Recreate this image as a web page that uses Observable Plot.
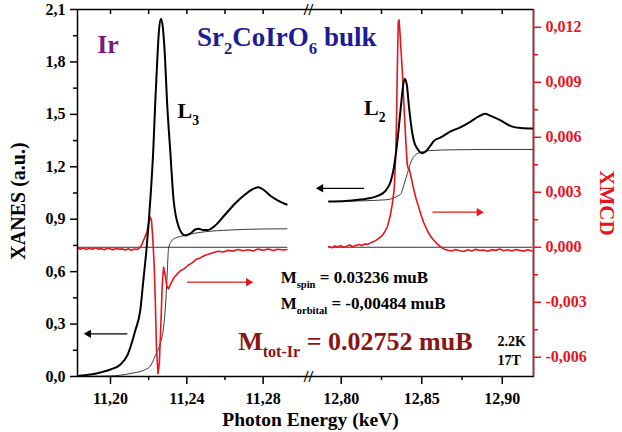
<!DOCTYPE html>
<html><head><meta charset="utf-8">
<script src="https://cdn.jsdelivr.net/npm/d3@7"></script>
<script src="https://cdn.jsdelivr.net/npm/@observablehq/plot@0.6"></script>
<style>body{margin:0;background:#fff}</style>
</head><body><div id="chart"></div>
<script>
// ---------- data (energies in keV) ----------
// L3 edge XANES (left axis, a.u.)
const l3XanesE = [11.1827,11.1895,11.1947,11.2000,11.2052,11.2088,11.2130,11.2156,11.2172,11.2188,11.2201,11.2212,11.2224,11.2235,11.2245,11.2254,11.2265,11.2275,11.2285,11.2296,11.2313,11.2331,11.2340,11.2355,11.2371,11.2392,11.2418,11.2444,11.2461,11.2486,11.2508,11.2549,11.2601,11.2653,11.2705,11.2742,11.2775,11.2800,11.2836,11.2878,11.2923];
const l3XanesV = [0.003,0.011,0.023,0.040,0.069,0.120,0.263,0.378,0.549,0.721,0.893,1.064,1.293,1.579,1.808,1.980,2.047,1.991,1.837,1.579,1.293,1.007,0.933,0.864,0.824,0.807,0.818,0.841,0.846,0.838,0.838,0.864,0.927,0.990,1.041,1.070,1.083,1.070,1.036,1.007,0.984];
// L3 edge step function
const l3StepE = [11.1827,11.2000,11.2104,11.2183,11.2209,11.2235,11.2261,11.2278,11.2290,11.2298,11.2304,11.2318,11.2339,11.2366,11.2418,11.2486,11.2627,11.2784,11.2925];
const l3StepV = [0.000,0.003,0.017,0.040,0.060,0.120,0.190,0.280,0.435,0.607,0.732,0.772,0.792,0.801,0.815,0.827,0.838,0.844,0.845];
// L3 XMCD (right axis)
const l3XmcdE = [11.1827,11.1843,11.1858,11.1874,11.1890,11.1905,11.1921,11.1937,11.1952,11.1968,11.1984,11.2000,11.2015,11.2031,11.2047,11.2062,11.2078,11.2094,11.2109,11.2125,11.2141,11.2151,11.2162,11.2177,11.2190,11.2201,11.2209,11.2215,11.2222,11.2229,11.2235,11.2241,11.2249,11.2256,11.2264,11.2271,11.2278,11.2287,11.2295,11.2304,11.2313,11.2329,11.2350,11.2366,11.2386,11.2407,11.2428,11.2449,11.2470,11.2491,11.2512,11.2538,11.2564,11.2590,11.2617,11.2643,11.2669,11.2695,11.2721,11.2747,11.2773,11.2800,11.2826,11.2852,11.2878,11.2904,11.2925];
const l3XmcdV = [-0.00007,-0.0001,-0.00004,-0.00012,-0.00006,-0.00011,-0.00003,-0.0001,-0.00008,-0.00014,-0.00005,-0.0001,-0.00013,-0.00006,-0.00011,-0.00009,-0.00015,-0.00008,-0.00016,-0.0001,-0.00012,-0.00004,0.0001,0.00047,0.0008,0.00135,0.00164,0.00146,0.0004,-0.001,-0.003,-0.0055,-0.0069,-0.0063,-0.0042,-0.0021,-0.00109,-0.00154,-0.0021,-0.00227,-0.00205,-0.00172,-0.00145,-0.00128,-0.00118,-0.00098,-0.00085,-0.00066,-0.00058,-0.00046,-0.00038,-0.0003,-0.00022,-0.00026,-0.00017,-0.00021,-0.00012,-0.00019,-0.00014,-0.0002,-0.0001,-0.00016,-0.00009,-0.00018,-0.00011,-0.00015,-0.00012];
// L2 edge XANES
const l2XanesE = [12.7924,12.8028,12.8121,12.8183,12.8233,12.8276,12.8307,12.8326,12.8349,12.8370,12.8382,12.8394,12.8407,12.8421,12.8432,12.8442,12.8456,12.8473,12.8488,12.8504,12.8525,12.8550,12.8576,12.8618,12.8680,12.8742,12.8804,12.8854,12.8893,12.8928,12.8990,12.9053,12.9115,12.9189];
const l2XanesV = [1.001,1.004,1.013,1.021,1.036,1.064,1.116,1.190,1.350,1.541,1.648,1.704,1.671,1.541,1.453,1.389,1.333,1.303,1.285,1.278,1.287,1.316,1.348,1.368,1.402,1.427,1.459,1.488,1.503,1.491,1.465,1.433,1.422,1.419];
// L2 edge step function
const l2StepE = [12.7924,12.8121,12.8276,12.8320,12.8351,12.8370,12.8388,12.8401,12.8411,12.8425,12.8442,12.8463,12.8494,12.8556,12.8680,12.8867,12.9189];
const l2StepV = [1.001,1.005,1.011,1.019,1.033,1.045,1.093,1.133,1.162,1.207,1.246,1.270,1.283,1.293,1.297,1.299,1.299];
// L2 XMCD
const l2XmcdE = [12.7922,12.7941,12.7960,12.7978,12.7997,12.8015,12.8034,12.8053,12.8071,12.8090,12.8109,12.8127,12.8146,12.8165,12.8183,12.8202,12.8220,12.8239,12.8258,12.8273,12.8286,12.8297,12.8307,12.8317,12.8328,12.8334,12.8339,12.8343,12.8348,12.8354,12.8359,12.8364,12.8373,12.8380,12.8390,12.8401,12.8410,12.8416,12.8421,12.8432,12.8444,12.8463,12.8481,12.8494,12.8512,12.8535,12.8556,12.8576,12.8593,12.8612,12.8637,12.8661,12.8686,12.8711,12.8736,12.8761,12.8786,12.8810,12.8835,12.8860,12.8885,12.8910,12.8935,12.8960,12.8984,12.9009,12.9034,12.9059,12.9084,12.9109,12.9134,12.9159,12.9183];
const l2XmcdV = [0.00004,-0.00003,0.00008,0.00002,0.00009,-0.00001,0.00006,0.00012,0.00003,0.0001,0.00015,0.00009,0.00018,0.00016,0.00024,0.00031,0.0004,0.00053,0.00068,0.00088,0.00112,0.00146,0.00185,0.00235,0.0031,0.0041,0.0053,0.0068,0.0096,0.0123,0.0124,0.0118,0.0105,0.0095,0.0076,0.0058,0.0045,0.0043,0.0043,0.0039,0.0034,0.0027,0.0022,0.0018,0.00135,0.0009,0.00058,0.00037,0.0002,0.00006,-0.00009,-0.00016,-0.0002,-0.00012,-0.00019,-0.00023,-0.00014,-0.0002,-0.00011,-0.00018,-0.00015,-0.00022,-0.00013,-0.00017,-0.0001,-0.00019,-0.00014,-0.0002,-0.00012,-0.00017,-0.00021,-0.00013,-0.0002];

// axes
const xDomain = [11.1827, 11.3022, 12.7778, 12.9194];   // broken axis: two segments
const xMajorTicks = [11.20, 11.24, 11.28, 12.80, 12.85, 12.90];
const xMinorTicks = [11.22, 11.26, 12.825, 12.875];
const xTopTicks = [11.20, 11.22, 11.24, 11.26, 11.28, 12.80, 12.825, 12.85, 12.875, 12.90];
const yDomain = [0, 2.1];
const yMajorTicks = [0, 0.3, 0.6, 0.9, 1.2, 1.5, 1.8, 2.1];
const yMinorTicks = [0.15, 0.45, 0.75, 1.05, 1.35, 1.65, 1.95];
const xmcdDomain = [-0.00705, 0.01297];
const xmcdMajorTicks = [-0.006, -0.003, 0, 0.003, 0.006, 0.009, 0.012];
const xmcdMinorTicks = [-0.0045, -0.0015, 0.0015, 0.0045, 0.0075, 0.0105];

// ---------- build ----------
const RED = "#e8141c";
// broken energy axis -> continuous coordinate: segment 1 -> [0,1], segment 2 -> [1,2]
const u = e => e <= xDomain[1]
  ? (e - xDomain[0]) / (xDomain[1] - xDomain[0])
  : 1 + (e - xDomain[2]) / (xDomain[3] - xDomain[2]);
const uInv = t => t <= 1
  ? xDomain[0] + t * (xDomain[1] - xDomain[0])
  : xDomain[2] + (t - 1) * (xDomain[3] - xDomain[2]);
const xm = d3.scaleLinear().domain(xmcdDomain).range(yDomain);
const zip = (E, V, f = v => v) => E.map((e, i) => ({e, v: f(V[i])}));
const l3X = zip(l3XanesE, l3XanesV), l3S = zip(l3StepE, l3StepV), l3M = zip(l3XmcdE, l3XmcdV, xm);
const l2X = zip(l2XanesE, l2XanesV), l2S = zip(l2StepE, l2StepV), l2M = zip(l2XmcdE, l2XmcdV, xm);
const zeroL = [{e: l3XmcdE[0], v: xm(0)}, {e: l3XmcdE[l3XmcdE.length-1], v: xm(0)}];
const zeroR = [{e: l2XmcdE[0], v: xm(0)}, {e: l2XmcdE[l2XmcdE.length-1], v: xm(0)}];
const clean = d => (Math.abs(d) < 1e-9 ? 0 : d);
const f2 = d => clean(d).toFixed(2).replace(".", ",");
const f1 = d => clean(d).toFixed(1).replace(".", ",");
const f3 = d => clean(d).toFixed(3).replace(".", ",");
const X = d => u(d.e);

const arrows = [
  {x1: 11.2088, x2: 11.1885, y: 0.244, c: "black", dir: -90},
  {x1: 11.2401, x2: 11.2723, y: 0.540, c: RED, dir: 90},
  {x1: 12.8142, x2: 12.7873, y: 1.077, c: "black", dir: -90},
  {x1: 12.8566, x2: 12.8856, y: 0.940, c: RED, dir: 90}
];
const note = (x, y, text, o) => Plot.text([{x: u(x), y, text}], {x: "x", y: "y", text: "text", textAnchor: "start", fontWeight: "bold", ...o});

const plot = Plot.plot({
  width: 622, height: 432,
  marginLeft: 77, marginRight: 89, marginTop: 9, marginBottom: 56,
  style: {fontFamily: "'Liberation Serif', 'Times New Roman', serif", fontWeight: "bold", background: "white"},
  x: {domain: [0, 2], axis: null, label: null},
  y: {domain: yDomain, axis: null, label: null},
  marks: [
    Plot.line(zeroL, {x: X, y: "v", stroke: "black", strokeWidth: 0.8}),
    Plot.line(zeroR, {x: X, y: "v", stroke: "black", strokeWidth: 0.8}),
    Plot.line(l3S, {x: X, y: "v", stroke: "#222", strokeWidth: 0.9, curve: "monotone-x"}),
    Plot.line(l2S, {x: X, y: "v", stroke: "#222", strokeWidth: 0.9, curve: "monotone-x"}),
    Plot.line(l3M, {x: X, y: "v", stroke: RED, strokeWidth: 1.6}),
    Plot.line(l2M, {x: X, y: "v", stroke: RED, strokeWidth: 1.6}),
    Plot.line(l3X, {x: X, y: "v", stroke: "black", strokeWidth: 2, curve: "monotone-x"}),
    Plot.line(l2X, {x: X, y: "v", stroke: "black", strokeWidth: 2, curve: "monotone-x"}),
    // arrows
    Plot.link(arrows, {x1: d => u(d.x1), x2: d => u(d.x2), y1: "y", y2: "y", stroke: "c", strokeWidth: 1.2}),
    Plot.dot(arrows, {x: d => u(d.x2), y: "y", symbol: "triangle2", fill: "c", r: 4, rotate: "dir", stroke: null}),
    // frame & axes
    Plot.frame({stroke: "black", strokeWidth: 1.5}),
    Plot.ruleX([2], {stroke: RED, strokeWidth: 1.5}),
    Plot.axisX(xMajorTicks.map(u), {anchor: "bottom", tickSize: 8, tickPadding: 8, tickFormat: d => f2(uInv(d)), fontSize: 16, fontWeight: "bold", strokeWidth: 1.5, label: null}),
    Plot.axisX(xMinorTicks.map(u), {anchor: "bottom", tickSize: 4, tickFormat: () => "", strokeWidth: 1.5, label: null}),
    Plot.tickX(xTopTicks.map(u), {x: d => d, insetBottom: 362, stroke: "black", strokeWidth: 1.5}),
    Plot.axisY(yMajorTicks, {anchor: "left", tickSize: 7, tickPadding: 5, tickFormat: f1, fontSize: 16, fontWeight: "bold", strokeWidth: 1.5, label: null}),
    Plot.axisY(yMinorTicks, {anchor: "left", tickSize: 4, tickFormat: () => "", strokeWidth: 1.5, label: null}),
    Plot.axisY(xmcdMajorTicks.map(xm), {anchor: "right", tickSize: 7, tickPadding: 5, tickFormat: d => f3(xm.invert(d)), fontSize: 16, fontWeight: "bold", color: RED, strokeWidth: 1.5, label: null}),
    Plot.axisY(xmcdMinorTicks.map(xm), {anchor: "right", tickSize: 4, tickFormat: () => "", color: RED, strokeWidth: 1.5, label: null}),
    // axis break marks
    Plot.text(["//"], {x: () => 1, frameAnchor: "top", lineAnchor: "middle", dx: 3, text: d => d, fontSize: 17, fontWeight: "bold"}),
    Plot.text(["//"], {x: () => 1, frameAnchor: "bottom", lineAnchor: "middle", dx: 3, text: d => d, fontSize: 17, fontWeight: "bold"}),
    // axis titles
    Plot.text(["XANES (a.u.)"], {frameAnchor: "left", textAnchor: "middle", lineAnchor: "middle", text: d => d, rotate: -90, dx: -59, dy: 8, fontSize: 20, fontWeight: "bold"}),
    Plot.text(["XMCD"], {frameAnchor: "right", textAnchor: "middle", lineAnchor: "middle", text: d => d, rotate: 90, dx: 73, dy: 10, fontSize: 21, fontWeight: "bold", fill: RED}),
    Plot.text(["Photon Energy (keV)"], {frameAnchor: "bottom", textAnchor: "middle", lineAnchor: "middle", text: d => d, dx: 5, dy: 43, fontSize: 19.5, fontWeight: "bold"}),
    // annotations
    note(11.1930, 1.901, "Ir", {fontSize: 26, fill: "#7b1a7b"}),
    note(11.2453, 1.9415, "Sr_{2}CoIrO_{6} bulk", {fontSize: 27, fill: "#1c1c94"}),
    note(11.2351, 1.519, "L_{3}", {fontSize: 22}),
    note(12.8142, 1.536, "L_{2}", {fontSize: 22}),
    note(11.2892, 0.565, "M_{spin} = 0.03236 muB", {fontSize: 17}),
    note(11.2892, 0.416, "M_{orbital} = -0,00484 muB", {fontSize: 17}),
    note(11.2669, 0.202, "M_{tot-Ir} = 0.02752 muB", {fontSize: 26, fill: "#8b1414"}),
    note(12.897, 0.202, "2.2K", {fontSize: 14}),
    note(12.897, 0.0916, "17T", {fontSize: 14})
  ]
});
document.getElementById("chart").appendChild(plot);

// subscripts: turn "_{...}" into real subscript tspans
const NS = "http://www.w3.org/2000/svg";
plot.querySelectorAll("text").forEach(t => {
  const s = t.textContent;
  if (!s.includes("_{")) return;
  const fs = parseFloat(getComputedStyle(t).fontSize);
  const parts = s.split(/_\{([^}]*)\}/);
  t.textContent = "";
  let shift = 0;
  parts.forEach((p, i) => {
    if (p === "") return;
    const sub = i % 2 === 1;
    const target = sub ? fs * 0.3 : 0;
    const ts = document.createElementNS(NS, "tspan");
    ts.setAttribute("dy", target - shift);
    shift = target;
    if (sub) ts.setAttribute("font-size", fs * 0.62);
    ts.textContent = p;
    t.appendChild(ts);
  });
});
</script>
</body></html>
